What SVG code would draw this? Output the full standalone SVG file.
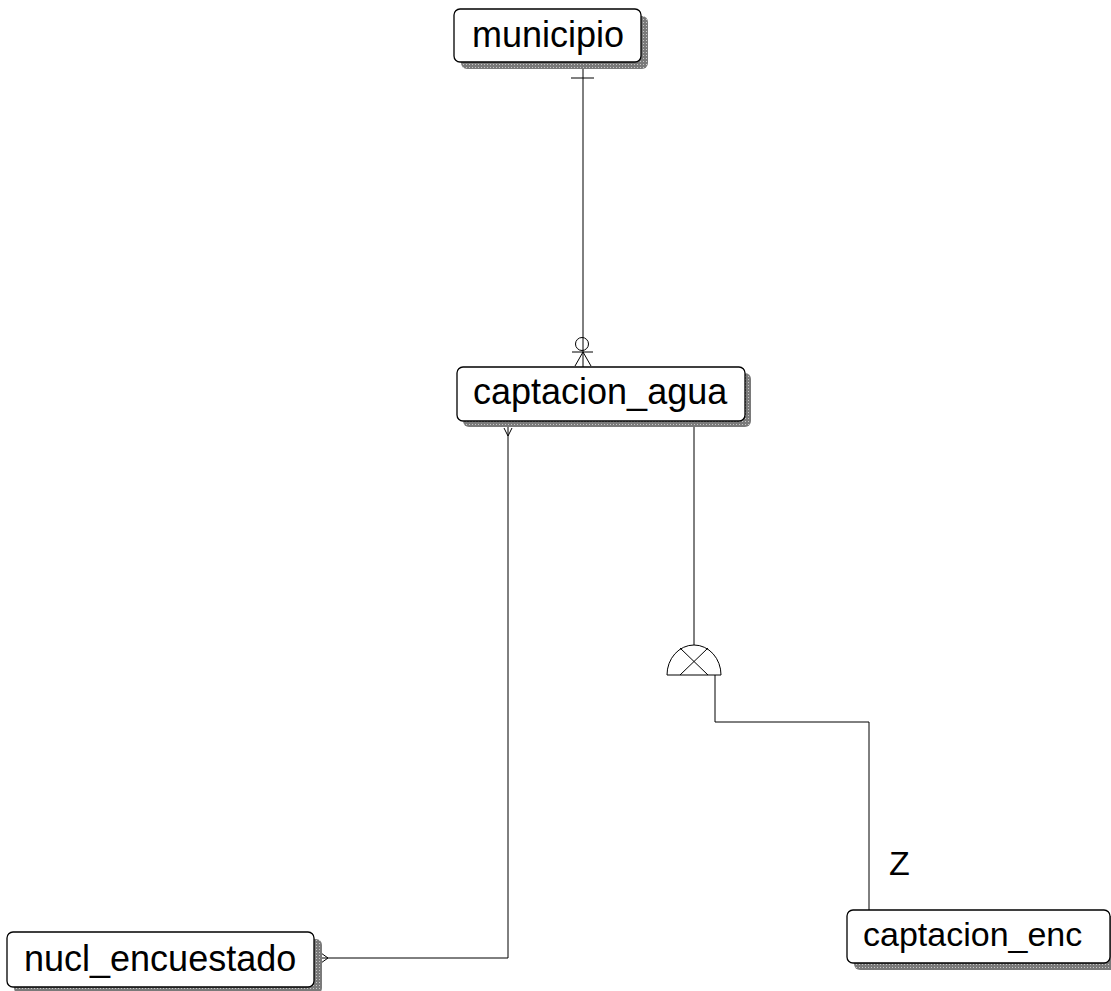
<svg xmlns="http://www.w3.org/2000/svg" width="1111" height="991" viewBox="0 0 1111 991">
<style>
.box{fill:#fff;stroke:#000;stroke-width:1.3}
.shadow{fill:url(#dots)}
.lbl{font-family:"Liberation Sans",Arial,sans-serif;font-size:36px;fill:#000}
.con{fill:none;stroke:#000;stroke-width:1}
</style>
<defs>
<pattern id="dots" width="3" height="3" patternUnits="userSpaceOnUse">
<rect width="3" height="3" fill="#7a7a7a"/>
<rect x="1" y="1" width="1" height="1" fill="#c8c8c8"/>
</pattern>
</defs>
<rect width="1111" height="991" fill="#fff"/>
<g id="connectors">
<line class="con" x1="583" y1="62" x2="583" y2="367"/>
<line class="con" x1="571" y1="78" x2="594" y2="78"/>
<circle class="con" cx="582" cy="344" r="6.5"/>
<line class="con" x1="572" y1="352" x2="593" y2="352"/>
<polyline class="con" points="575,366 583,352 591,366"/>
<polyline class="con" points="508,421 508,958 322,958"/>
<polyline class="con" points="504,428 508,436 512,428"/>
<polyline class="con" points="321,953 328,958 321,963"/>
<line class="con" x1="694" y1="421" x2="694" y2="645"/>
<path class="con" d="M667,675 A27,30 0 0 1 721,675 Z"/>
<line class="con" x1="680" y1="648" x2="708" y2="675"/>
<line class="con" x1="708" y1="648" x2="680" y2="675"/>
<polyline class="con" points="715,675 715,722 869,722 869,910"/>
<text class="lbl" x="889" y="875" style="font-size:34px">Z</text>
</g>
<g id="municipio">
<rect class="shadow" x="461" y="16" width="187" height="53" rx="6"/>
<rect class="box" x="454" y="9" width="187" height="53" rx="6"/>
<text class="lbl" x="472" y="47">municipio</text>
</g>
<g id="captacion_agua">
<rect class="shadow" x="463" y="373" width="288" height="54" rx="6"/>
<rect class="box" x="457" y="367" width="288" height="54" rx="6"/>
<text class="lbl" x="473" y="404">captacion_agua</text>
</g>
<g id="nucl_encuestado">
<rect class="shadow" x="14" y="939" width="308" height="55" rx="6"/>
<rect class="box" x="7" y="932" width="307" height="55" rx="6"/>
<text class="lbl" x="24" y="971">nucl_encuestado</text>
</g>
<g id="captacion_enc">
<rect class="shadow" x="854" y="916" width="264" height="54" rx="6"/>
<rect class="box" x="847" y="910" width="263" height="53" rx="6"/>
<text class="lbl" x="863" y="946" style="font-size:34px">captacion_enc</text>
</g>
</svg>
